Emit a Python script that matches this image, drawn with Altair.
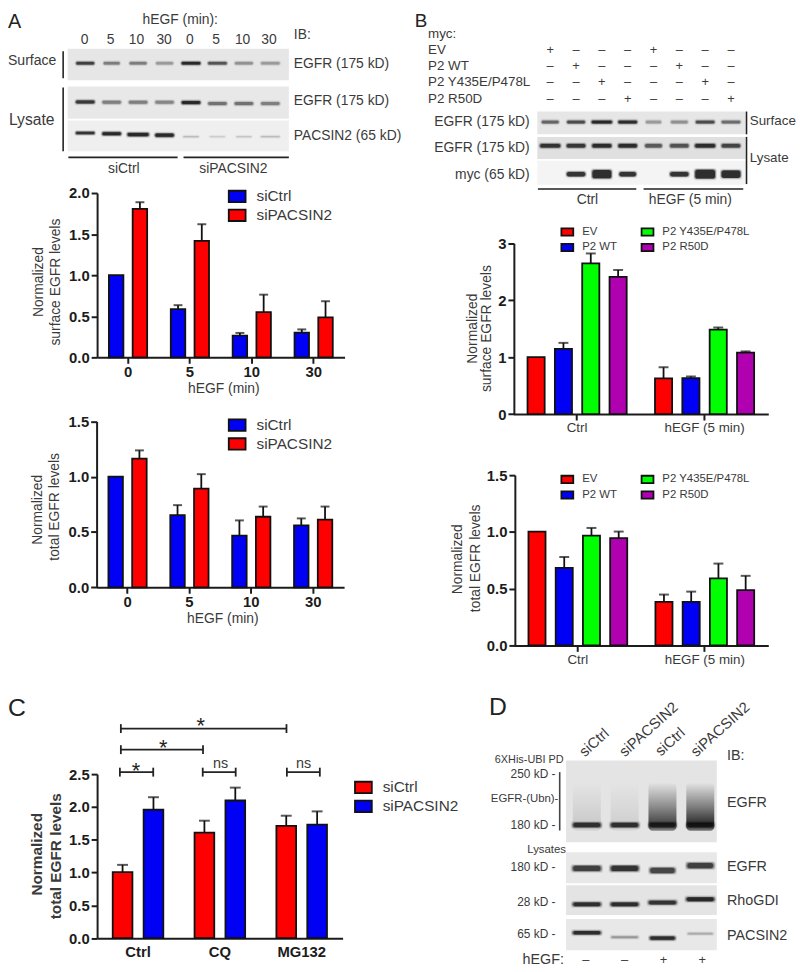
import altair as alt
import pandas as pd

W, H = 797, 964
FONT = "Liberation Sans"
TXT = "#3a3a3a"
AX = "#1c1c1c"

# ---------- bar data ----------
A_GROUPS = ["0", "5", "10", "30"]
A_SERIES = ["siCtrl", "siPACSIN2"]
A1_CTRL = [1.0, 0.586, 0.265, 0.30]
A1_KD = [1.807, 1.418, 0.55, 0.486]
A1_CTRL_TOP = [None, 0.635, 0.297, 0.34]
A1_KD_TOP = [1.888, 1.62, 0.763, 0.683]
A2_CTRL = [1.0, 0.653, 0.468, 0.56]
A2_KD = [1.163, 0.892, 0.638, 0.611]
A2_CTRL_TOP = [None, 0.743, 0.605, 0.623]
A2_KD_TOP = [1.238, 1.023, 0.73, 0.73]

B_GROUPS = ["Ctrl", "hEGF (5 min)"]
B_SERIES = ["EV", "P2 WT", "P2 Y435E/P478L", "P2 R50D"]
B1_VALUES = [[1.0, 0.625], [1.146, 0.631], [2.646, 1.482], [2.409, 1.077]]
B1_TOPS = [[None, 0.822], [1.25, 0.66], [2.82, 1.52], [2.53, 1.10]]
B2_VALUES = [[1.003, 0.384], [0.683, 0.384], [0.968, 0.59], [0.945, 0.488]]
B2_TOPS = [[None, 0.448], [0.779, 0.474], [1.035, 0.721], [1.003, 0.613]]

C_GROUPS = ["Ctrl", "CQ", "MG132"]
C_CTRL = [1.006, 1.61, 1.71]
C_KD = [1.957, 2.098, 1.73]
C_CTRL_TOP = [1.117, 1.79, 1.866]
C_KD_TOP = [2.148, 2.294, 1.932]

RED, BLUE, GREEN, PURPLE = "#ff0000", "#0000f5", "#00ff00", "#b000b0"

# ---------- blot data ----------
A_LANE_LABELS = ["0", "5", "10", "30", "0", "5", "10", "30"]
A_SURF_I = [0.8, 0.42, 0.42, 0.28, 1.0, 0.65, 0.32, 0.28]
A_SURF_W = [0.72, 0.65, 0.69, 0.69, 0.75, 0.75, 0.72, 0.75]
A_SURF_C = [0.46] * 8
A_LYS_I = [0.85, 0.42, 0.42, 0.38, 1.0, 0.48, 0.48, 0.42]
A_LYS_W = [0.75] * 8
A_LYS_C = [0.48, 0.49, 0.49, 0.49, 0.5, 0.53, 0.53, 0.53]
A_PAC_I = [0.9, 1.0, 1.0, 1.0, 0.2, 0.12, 0.15, 0.2]
A_PAC_W = [0.75, 0.75, 0.85, 0.75, 0.62, 0.62, 0.62, 0.75]
A_PAC_C = [0.41, 0.43, 0.46, 0.48, 0.53, 0.53, 0.53, 0.53]

B_EV = ["+", "–", "–", "–", "+", "–", "–", "–"]
B_WT = ["–", "+", "–", "–", "–", "+", "–", "–"]
B_Y = ["–", "–", "+", "–", "–", "–", "+", "–"]
B_R = ["–", "–", "–", "+", "–", "–", "–", "+"]
B_SURF_I = [0.55, 0.7, 1.0, 0.95, 0.28, 0.32, 0.7, 0.5]
B_SURF_W = [0.7, 0.74, 0.83, 0.77, 0.64, 0.7, 0.77, 0.77]
B_LYS_I = [0.9, 0.85, 0.95, 0.95, 0.6, 0.65, 0.95, 0.75]
B_LYS_W = [0.83, 0.77, 0.79, 0.77, 0.7, 0.77, 0.83, 0.77]
B_MYC_I = [0.0, 0.95, 1.0, 0.95, 0.0, 0.95, 1.0, 1.0]
B_MYC_W = [0.0, 0.77, 0.79, 0.7, 0.0, 0.77, 0.83, 0.79]
B_MYC_T = [0, 4.5, 8.5, 4.5, 0, 4.5, 9, 7.5]

D_LANE_SIGNS = ["–", "–", "+", "+"]
D_UB_I = [0.9, 0.9, 0.9, 0.95]
D_UB_W = [0.77, 0.77, 0.74, 0.74]
D_SMEAR_I = [0.13, 0.1, 0.8, 0.92]
D_EGFR_I = [0.8, 0.9, 0.75, 0.8]
D_EGFR_W = [0.785, 0.77, 0.7, 0.74]
D_EGFR_C = [0.52, 0.52, 0.585, 0.43]
D_RHO_I = [0.95, 0.95, 0.9, 1.0]
D_RHO_W = [0.77, 0.77, 0.77, 0.77]
D_RHO_C = [0.64, 0.64, 0.58, 0.47]
D_PAC_I = [0.95, 0.3, 0.95, 0.22]
D_PAC_W = [0.77, 0.74, 0.7, 0.7]
D_PAC_C = [0.44, 0.58, 0.61, 0.47]


def px(v):
    return v - 8


layers = []


def text(s, x, y, size=14, align="left", baseline="middle", weight="normal", color=TXT, angle=0):
    mk = dict(font=FONT, fontSize=size, align=align, baseline=baseline, fontWeight=weight, color=color)
    if angle:
        mk["angle"] = angle
    layers.append(
        alt.Chart(pd.DataFrame({"t": [s]})).mark_text(**mk).encode(
            x=alt.value(px(x)), y=alt.value(px(y)), text="t:N"
        )
    )


def rule(x1, y1, x2, y2, width=1.6, color="#222"):
    if x1 == x2:
        enc = dict(x=alt.value(px(x1)), y=alt.value(px(y1)), y2=alt.value(px(y2)))
    else:
        enc = dict(x=alt.value(px(x1)), x2=alt.value(px(x2)), y=alt.value(px(y1)))
    layers.append(alt.Chart(pd.DataFrame({"t": [0]})).mark_rule(color=color, strokeWidth=width).encode(**enc))


def box(x0, x1, y0, y1, color):
    layers.append(
        alt.Chart(pd.DataFrame({"t": [0]})).mark_rect(color=color).encode(
            x=alt.value(px(x0)), x2=alt.value(px(x1)), y=alt.value(px(y0)), y2=alt.value(px(y1))
        )
    )


def blot(strip, lanes, intensity, widths, centers, thick, soft=1.0):
    """strip = (x0,x1,y0,y1) page box; lanes = (first centre, last centre) page px"""
    x0, x1, y0, y1 = strip
    n = len(intensity)
    thicks = thick if isinstance(thick, list) else [thick] * n
    span = y1 - y0
    rows = []
    for i in range(n):
        if intensity[i] <= 0:
            continue
        t = thicks[i]
        for wf, extra, of in [(1.1, 3.6, 0.12 * soft), (1.04, 1.8, 0.24 * soft), (1.0, 0.8, 0.3), (0.92, 0.0, 0.72)]:
            w = widths[i] * wf
            rows.append(
                dict(
                    a=i - w / 2,
                    b=i + w / 2,
                    c=centers[i] - (t + extra) / 2 / span,
                    d=centers[i] + (t + extra) / 2 / span,
                    o=intensity[i] * of,
                )
            )
    xs = alt.Scale(domain=[0, n - 1], range=[px(lanes[0]), px(lanes[1])])
    ys = alt.Scale(domain=[0, 1], range=[px(y0), px(y1)])
    layers.append(
        alt.Chart(pd.DataFrame(rows)).mark_rect(color="#0c0c0c", cornerRadius=2.5).encode(
            x=alt.X("a:Q", scale=xs, axis=None),
            x2="b:Q",
            y=alt.Y("c:Q", scale=ys, axis=None),
            y2="d:Q",
            opacity=alt.Opacity("o:Q", scale=None),
        )
    )


def panel(groups, series, colors, values, tops, xr, yr, dom, ticks, fmt, x_pad, off_pad, cap, legend,
          xlab=None, yaxis_x=None, xticks=True):
    rows = []
    for s, vals, tp in zip(series, values, tops):
        for g, v, t in zip(groups, vals, tp):
            rows.append(dict(g=g, s=s, v=v, t=t))
    df = pd.DataFrame(rows)
    xs = alt.Scale(domain=groups, range=[px(xr[0]), px(xr[1])], paddingInner=x_pad, paddingOuter=x_pad / 2)
    ys = alt.Scale(domain=dom, range=[px(yr[0]), px(yr[1])], nice=False)
    os_ = alt.Scale(domain=series, paddingInner=off_pad, paddingOuter=off_pad / 2)
    offs = alt.XOffset("s:N", scale=os_, sort=series)
    xl = xlab or dict(labelFontSize=15, labelFontWeight="bold", labelColor=AX)
    xaxis = alt.Axis(
        title=None, orient="bottom", offset=-(H - px(yr[0])), labelAngle=0, labelFont=FONT,
        labelPadding=1 if xticks else 7,
        domainColor=AX, domainWidth=2, tickColor=AX, tickWidth=2, tickSize=6 if xticks else 0, ticks=xticks,
        grid=False, **xl,
    )
    yaxis = alt.Axis(
        title=None, orient="left", offset=-px(yaxis_x if yaxis_x else xr[0]), values=ticks, format=fmt,
        labelFont=FONT, labelFontSize=15, labelFontWeight="bold", labelColor=AX, labelPadding=2,
        domainColor=AX, domainWidth=2, tickColor=AX, tickWidth=2, tickSize=6, grid=False,
    )
    layers.append(
        alt.Chart(df).mark_bar(stroke="#111", strokeWidth=1.8).encode(
            x=alt.X("g:N", scale=xs, axis=xaxis, sort=groups),
            xOffset=offs,
            y=alt.Y("v:Q", scale=ys, axis=yaxis),
            color=alt.Color("s:N", scale=alt.Scale(domain=series, range=colors), legend=legend, sort=series),
        )
    )
    err = df.dropna(subset=["t"])
    layers.append(
        alt.Chart(err).mark_rule(color="#111", strokeWidth=1.8).encode(
            x=alt.X("g:N", scale=xs, axis=None, sort=groups),
            xOffset=offs,
            y=alt.Y("v:Q", scale=ys, axis=None),
            y2="t:Q",
        )
    )
    layers.append(
        alt.Chart(err).mark_tick(color="#111", size=cap, thickness=2, orient="horizontal").encode(
            x=alt.X("g:N", scale=xs, axis=None, sort=groups),
            xOffset=offs,
            y=alt.Y("t:Q", scale=ys, axis=None),
        )
    )


def legend(x, y, size, font, cols=1, hgap=0.68, row=0, colpad=10, off=10):
    path = f"M-1,-{hgap}H1V{hgap}H-1Z"
    kw = dict(columns=cols, columnPadding=colpad) if cols > 1 else {}
    return alt.Legend(
        title=None, orient="none", legendX=px(x), legendY=px(y), symbolType=path, symbolSize=size,
        symbolStrokeColor="#111", symbolStrokeWidth=1.8, symbolOpacity=1, labelFont=FONT, labelFontSize=font,
        labelColor=TXT, labelOffset=off, rowPadding=row, direction="vertical", padding=0, **kw,
    )


# ================ Panel A blots ================
text("A", 8, 23, size=20, baseline="alphabetic", color="#222")
text("hEGF (min):", 182, 15.7, align="center")
for c, lab in zip([85.3, 111.7, 137.7, 165.7, 191.7, 218.3, 245, 271.7], A_LANE_LABELS):
    text(lab, c, 35.7, align="center")
text("IB:", 296.7, 30.7)
text("Surface", 8, 57, size=14.2)
text("Lysate", 9, 116.7, size=15.8)
rule(63.7, 46.7, 63.7, 74)
rule(63.7, 83.3, 63.7, 147.7)
box(68.3, 291.7, 44.3, 76, "#e6e6e6")
box(68.3, 291.7, 82.3, 115, "#e8e8e8")
box(68.3, 291.7, 116.7, 147.7, "#efefef")
LA = (86, 273)
blot((68.3, 291.7, 44.3, 76), LA, A_SURF_I, A_SURF_W, A_SURF_C, 2.6)
blot((68.3, 291.7, 82.3, 115), LA, A_LYS_I, A_LYS_W, A_LYS_C, 3)
blot((68.3, 291.7, 116.7, 147.7), LA, A_PAC_I, A_PAC_W, A_PAC_C, [2.4, 3, 3.2, 3.2, 1, 1, 1, 1])
rule(69, 154, 179.3, 154)
rule(185.3, 154, 291.7, 154)
text("siCtrl", 125, 165.7, align="center")
text("siPACSIN2", 235.7, 165.7, align="center")
text("EGFR (175 kD)", 296.7, 60)
text("EGFR (175 kD)", 296.7, 97.3)
text("PACSIN2 (65 kD)", 296.7, 132.3)

# ================ Panel A charts ================
panel(A_GROUPS, A_SERIES, [BLUE, RED], [A1_CTRL, A1_KD], [A1_CTRL_TOP, A1_KD_TOP], (98, 348), (356, 190),
      [0, 2], [0, 0.5, 1, 1.5, 2], ".1f", 0.232, 0.39, 9, legend(230, 184, 289, 15.5))
text("Normalized", 39, 280, angle=270, align="center")
text("surface EGFR levels", 57, 280, angle=270, align="center")
text("hEGF (min)", 226, 388.5, align="center")

panel(A_GROUPS, A_SERIES, [BLUE, RED], [A2_CTRL, A2_KD], [A2_CTRL_TOP, A2_KD_TOP], (97.5, 347.5), (588.3, 420.7),
      [0, 1.5], [0, 0.5, 1, 1.5], ".1f", 0.232, 0.39, 9, legend(230, 415, 289, 15.5))
text("Normalized", 38, 510, angle=270, align="center")
text("total EGFR levels", 56, 507, angle=270, align="center")
text("hEGF (min)", 225, 620.7, align="center")

# ================ Panel B blots ================
text("B", 419, 22, size=19, baseline="alphabetic", color="#222")
text("myc:", 432.3, 29.3, size=13.5)
for lab, yy, signs in [("EV", 45.7, B_EV), ("P2 WT", 62, B_WT), ("P2 Y435E/P478L", 78.3, B_Y), ("P2 R50D", 95.3, B_R)]:
    text(lab, 432.3, yy, size=13.5)
    layers.append(
        alt.Chart(pd.DataFrame({"lane": list(range(8)), "sign": signs})).mark_text(
            font=FONT, fontSize=13, color=TXT
        ).encode(
            x=alt.X("lane:Q", scale=alt.Scale(domain=[0, 7], range=[px(555.7), px(738.3)]), axis=None),
            y=alt.value(px(yy)),
            text="sign:N",
        )
    )
LB = (555.7, 738.3)
box(542.7, 753, 107.7, 130.7, "#e6e6e6")
box(542.7, 753, 133.3, 155.7, "#e0e0e0")
box(542.7, 753, 157.3, 181.7, "#f4f4f4")
blot((542.7, 753, 107.7, 130.7), LB, B_SURF_I, B_SURF_W, [0.46] * 8, 2.8)
blot((542.7, 753, 133.3, 155.7), LB, B_LYS_I, B_LYS_W, [0.4] * 8, 3.6)
blot((542.7, 753, 157.3, 181.7), LB, B_MYC_I, B_MYC_W, [0.56] * 8, B_MYC_T, soft=0.7)
text("EGFR (175 kD)", 535, 118.3, align="right")
text("EGFR (175 kD)", 535, 144.3, align="right")
text("myc (65 kD)", 535, 171.7, align="right")
rule(754, 107.7, 754, 130.7)
rule(754, 133.3, 754, 181)
text("Surface", 757.3, 117.7, size=13.5)
text("Lysate", 757.3, 155, size=13.5)
rule(543.3, 186, 642.7, 186)
rule(650, 186, 750.7, 186)
text("Ctrl", 593.3, 196.7, align="center")
text("hEGF (5 min)", 697.3, 196.7, align="center")

# ================ Panel B charts ================
XLAB_B = dict(labelFontSize=13.5, labelFontWeight="normal", labelColor=TXT)
panel(B_GROUPS, B_SERIES, [RED, BLUE, GREEN, PURPLE], B1_VALUES, B1_TOPS, (518.5, 776), (413.3, 240.7),
      [0, 3], [0, 1, 2, 3], "d", 0.142, 0.373, 10, legend(566, 222, 144, 11.5, cols=2, hgap=0.62, colpad=20, off=8),
      xlab=XLAB_B, yaxis_x=519)
text("Normalized", 478, 327, angle=270, align="center")
text("surface EGFR levels", 492, 327, angle=270, align="center")

panel(B_GROUPS, B_SERIES, [RED, BLUE, GREEN, PURPLE], B2_VALUES, B2_TOPS, (519.5, 776), (647, 475),
      [0, 1.5], [0, 0.5, 1, 1.5], ".1f", 0.142, 0.373, 10, legend(566, 472, 144, 11.5, cols=2, hgap=0.62, colpad=20, off=8),
      xlab=XLAB_B, yaxis_x=520)
text("Normalized", 463, 560, angle=270, align="center")
text("total EGFR levels", 480.7, 559, angle=270, align="center")

# ================ Panel C ================
text("C", 8, 718, size=25, baseline="alphabetic", color="#222")
panel(C_GROUPS, A_SERIES, [RED, BLUE], [C_CTRL, C_KD], [C_CTRL_TOP, C_KD_TOP], (98, 346), (942.7, 777),
      [0, 2.5], [0, 0.5, 1, 1.5, 2, 2.5], ".1f", 0.245, 0.362, 11, legend(357.5, 781, 289, 15.5), xticks=False)
text("Normalized", 37, 858, size=15.5, weight="bold", angle=270, align="center")
text("total  EGFR levels", 57, 860, size=15.5, weight="bold", angle=270, align="center")
for x1, x2, yy in [(122, 289.3, 731), (122, 205, 752.3), (121, 154.7, 775), (204.7, 238, 775), (289.7, 323, 775)]:
    rule(x1, yy, x2, yy, width=1.8)
    rule(x1, yy - 4.5, x1, yy + 4.5, width=1.8)
    rule(x2, yy - 4.5, x2, yy + 4.5, width=1.8)
for sx, sy in [(202.7, 728), (164.7, 751), (137.3, 774)]:
    text("*", sx, sy, size=22, align="center", color="#222")
text("ns", 222.7, 767, size=14.5, align="center")
text("ns", 306.7, 767, size=14.5, align="center")

# ================ Panel D ================
text("D", 494, 717, size=25, baseline="alphabetic", color="#222")
text("siCtrl", 600, 745, size=15, align="center", angle=318)
text("siPACSIN2", 655, 731.7, size=15, align="center", angle=318)
text("siCtrl", 676.7, 744.3, size=15, align="center", angle=318)
text("siPACSIN2", 727.3, 731.7, size=15, align="center", angle=318)
text("6XHis-UBI PD", 569.3, 762.7, size=11, align="right")
text("250 kD -", 561, 776.7, size=12, align="right")
text("EGFR-(Ubn)-", 564, 801.7, size=11.5, align="right")
text("180 kD -", 561, 828.3, size=12, align="right")
text("Lysates", 571.7, 853.3, size=11.5, align="right")
text("180 kD -", 561, 871, size=12, align="right")
text("28 kD -", 561, 906.7, size=12, align="right")
text("65 kD -", 561, 938.3, size=12, align="right")
rule(565.3, 775, 565.3, 834, color="#444")
box(571.7, 724, 763.3, 845.7, "#e4e4e4")
box(571.7, 724, 856, 887.3, "#e8e8e8")
box(571.7, 724, 889.3, 919.3, "#e4e4e4")
box(571.7, 724, 923.3, 955, "#e8e8e8")
LD = (592.7, 707.3)
STRIP_UB = (571.7, 724, 763.3, 845.7)
# ubiquitin smear above the main band
smear = alt.LinearGradient(
    gradient="linear", x1=0, x2=0, y1=0, y2=1,
    stops=[
        alt.GradientStop(color="rgba(10,10,10,0)", offset=0),
        alt.GradientStop(color="rgba(10,10,10,0.5)", offset=0.5),
        alt.GradientStop(color="rgba(10,10,10,0.9)", offset=0.85),
        alt.GradientStop(color="rgba(10,10,10,0.55)", offset=1),
    ],
)
layers.append(
    alt.Chart(pd.DataFrame({
        "a": [i - 0.37 for i in range(4)], "b": [i + 0.37 for i in range(4)],
        "c": [0.27] * 4, "d": [0.86] * 4, "o": D_SMEAR_I,
    })).mark_rect(color=smear, cornerRadius=4).encode(
        x=alt.X("a:Q", scale=alt.Scale(domain=[0, 3], range=[px(592.7), px(707.3)]), axis=None),
        x2="b:Q",
        y=alt.Y("c:Q", scale=alt.Scale(domain=[0, 1], range=[px(763.3), px(845.7)]), axis=None),
        y2="d:Q",
        opacity=alt.Opacity("o:Q", scale=None),
    )
)
blot(STRIP_UB, LD, D_UB_I, D_UB_W, [0.79] * 4, 4.5)
blot((571.7, 724, 856, 887.3), LD, D_EGFR_I, D_EGFR_W, D_EGFR_C, 5.4)
blot((571.7, 724, 889.3, 919.3), LD, D_RHO_I, D_RHO_W, D_RHO_C, 3.8)
blot((571.7, 724, 923.3, 955), LD, D_PAC_I, D_PAC_W, D_PAC_C, [3.4, 2, 3.4, 1.8])
text("IB:", 734.3, 758.3, size=14.5)
text("EGFR", 734.3, 806.7, size=14.5)
text("EGFR", 734.3, 871, size=14.5)
text("RhoGDI", 734.3, 905, size=14.5)
text("PACSIN2", 734.3, 940.7, size=14.5)
text("hEGF:", 527.7, 965, size=14.5)
layers.append(
    alt.Chart(pd.DataFrame({"lane": list(range(4)), "sign": D_LANE_SIGNS})).mark_text(
        font=FONT, fontSize=13, color=TXT
    ).encode(
        x=alt.X("lane:Q", scale=alt.Scale(domain=[0, 3], range=[px(591.7), px(709.3)]), axis=None),
        y=alt.value(px(965)),
        text="sign:N",
    )
)

chart = (
    alt.layer(*layers)
    .resolve_scale(x="independent", y="independent", color="independent", xOffset="independent")
    .resolve_axis(x="independent", y="independent")
    .resolve_legend(color="independent")
    .properties(width=W, height=H, padding=0, autosize=alt.AutoSizeParams(type="none"), background="white")
    .configure_view(stroke=None)
)
chart.save("out.html", embed_options={"renderer": "svg", "actions": False})
